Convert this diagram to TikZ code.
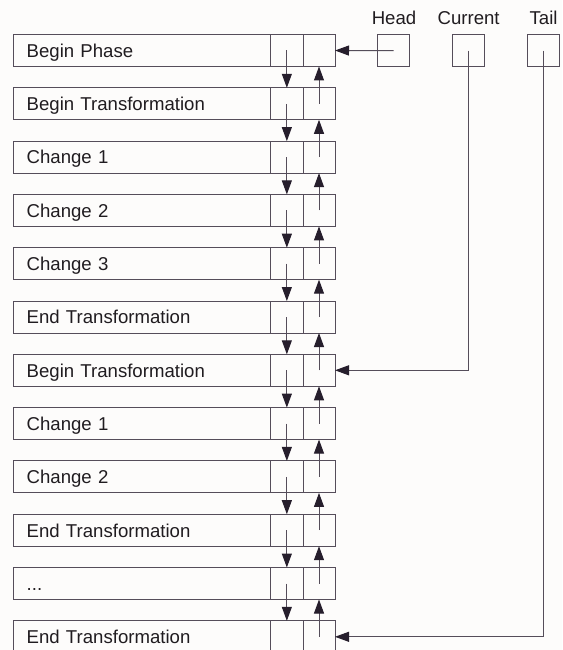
\documentclass[tikz,border=0pt]{standalone}
\usepackage{fontspec}
\setmainfont{Liberation Sans}
\usetikzlibrary{arrows.meta}
\definecolor{linec}{HTML}{554D5A}
\definecolor{tipc}{HTML}{261E2C}
\definecolor{txtc}{HTML}{201C20}
\definecolor{bgc}{HTML}{FDFCFB}
\newcommand\mythreedots{...}
\begin{document}
\begin{tikzpicture}[x=1pt,y=-1pt,
  cell/.style={draw=linec,line width=1pt,minimum height=32pt,inner sep=0pt,outer sep=0pt},
  txtbox/.style={cell,minimum width=257.7pt,text width=230.3pt,align=left,inner xsep=13.7pt,
     text height=13.6pt,text depth=0pt,font=\fontsize{18.6}{20}\selectfont,text=txtc,anchor=north west},
  ptr/.style={cell,minimum width=32.3pt,anchor=north west},
  lbl/.style={font=\fontsize{18.6}{20}\selectfont,text=txtc,anchor=base,inner sep=0pt},
  arr/.style={draw=linec,line width=1pt,-{Triangle[length=14pt,width=10pt,color=tipc]}}]
\useasboundingbox (0,0) rectangle (562,650);
\clip (0,0) rectangle (562,650);
\fill[bgc] (0,0) rectangle (562,650);
\foreach \t [count=\i from 0] in {Begin Phase,Begin Transformation,Change 1,Change 2,Change 3,End Transformation,Begin Transformation,Change 1,Change 2,End Transformation,\mythreedots,End Transformation}{
  \pgfmathsetmacro{\yy}{34.5+53.3*\i}
  \node[txtbox] (r\i) at (13,\yy) {\t};
  \node[ptr] (a\i) at (270.7,\yy) {};
  \node[ptr,minimum width=32pt] (b\i) at (303,\yy) {};
}
\foreach \i [evaluate=\i as \j using int(\i+1)] in {0,...,10}{
  \draw[arr] (a\i.center) -- (a\j.north);
  \draw[arr] (b\j.center) -- (b\i.south);
}
\node[cell,minimum width=32.5pt,minimum height=32pt] (head) at (393.6,50.7) {};
\node[cell,minimum width=32.5pt,minimum height=32pt] (cur) at (468.6,50.7) {};
\node[cell,minimum width=32.5pt,minimum height=32pt] (tail) at (543.6,50.7) {};
\node[lbl] (hl) at (394,25) {Head};
\node[lbl] (cl) at (468.6,25) {Current};
\node[lbl] (tl) at (543.6,25) {Tail};
\draw[arr] (head.center) -- (b0.east);
\draw[arr] (cur.center) |- (b6.east);
\draw[arr] (tail.center) |- (b11.east);
\end{tikzpicture}
\end{document}
